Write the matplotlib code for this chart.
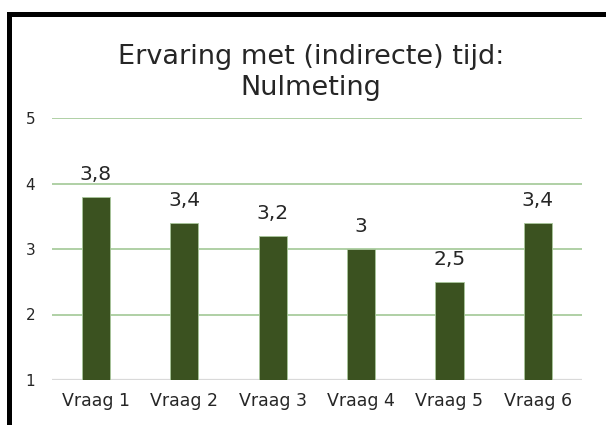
import matplotlib
matplotlib.use("Agg")
import matplotlib.pyplot as plt
from matplotlib.lines import Line2D

categories = ["Vraag 1", "Vraag 2", "Vraag 3", "Vraag 4", "Vraag 5", "Vraag 6"]
values = [3.8, 3.4, 3.2, 3.0, 2.5, 3.4]
labels = ["3,8", "3,4", "3,2", "3", "2,5", "3,4"]
yticks = [1, 2, 3, 4, 5]

plt.rcParams['font.family'] = ['DejaVu Sans']

W, H = 606, 425
fig = plt.figure(figsize=(W/100, H/100), dpi=100)
ax = fig.add_axes([51.8/W, (H-380)/H, (582-51.8)/W, (380-118)/H])

x = list(range(len(categories)))
ax.bar(x, [v - 1 for v in values], bottom=1, width=0.32, color="#3B5220",
       edgecolor="#A9C79A", linewidth=0.6, zorder=3)
for xi, v, lab in zip(x, values, labels):
    ax.text(xi, v + 0.26, lab, ha="center", va="baseline", fontsize=14.5, color="#262626")

ax.set_xlim(-0.5, len(categories) - 0.5)
ax.set_ylim(1, 5)
ax.set_yticks(yticks)
ax.set_yticklabels([str(t) for t in yticks])
ax.set_xticks(x)
ax.set_xticklabels(categories, fontsize=12.5)
for t in yticks[1:]:
    ax.axhline(t, color="#AFD0A5", lw=1.4, zorder=1)
ax.axhline(1, color="#D9D9D9", lw=1.6, zorder=2)
for s in ax.spines.values():
    s.set_visible(False)
ax.tick_params(axis="both", length=0, colors="#262626")
ax.tick_params(axis="y", pad=12, labelsize=11)
ax.tick_params(axis="x", pad=9)

fig.text(311/W, 1 - 64/H, "Ervaring met (indirecte) tijd:", ha="center", va="baseline",
         fontsize=19.5, color="#262626")
fig.text(311/W, 1 - 95/H, "Nulmeting", ha="center", va="baseline",
         fontsize=19.5, color="#262626")

# frame (left and top edges of the chart border)
fig.add_artist(Line2D([8.5/W, 8.5/W, 1.02], [-0.02, 1 - 13.5/H, 1 - 13.5/H], color="black",
                      lw=3.6, transform=fig.transFigure, solid_joinstyle="miter",
                      solid_capstyle="butt"))

fig.savefig("out.png", dpi=100, facecolor="white")
